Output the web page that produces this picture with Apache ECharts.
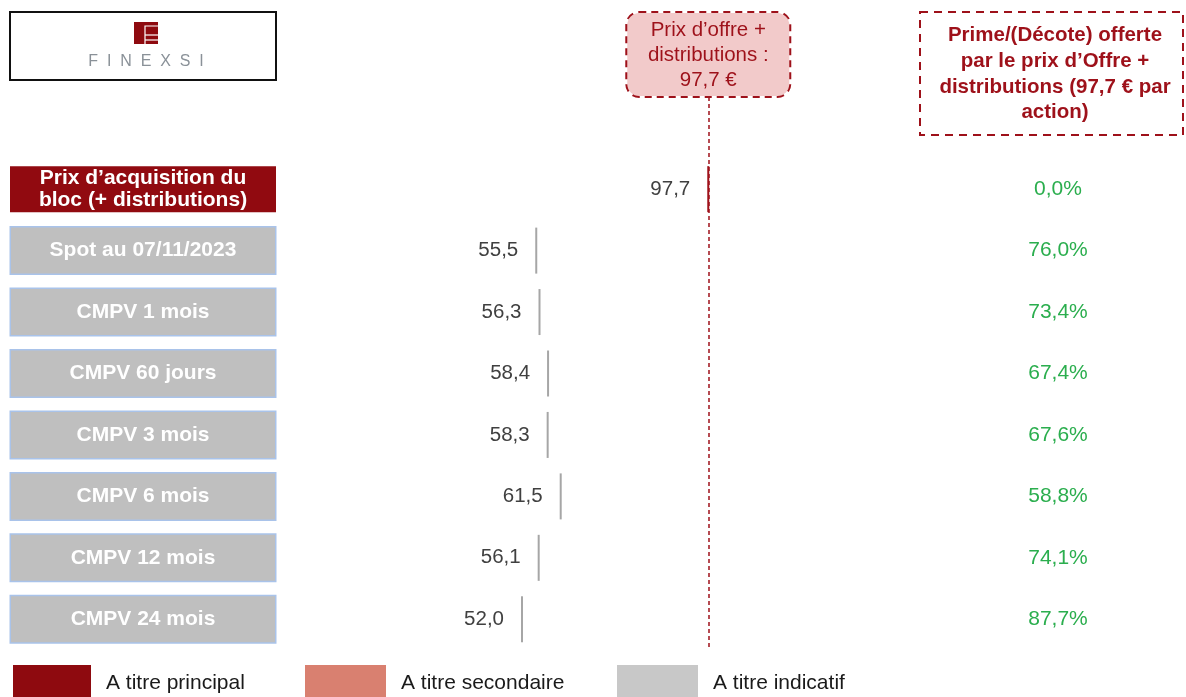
<!DOCTYPE html>
<html><head><meta charset="utf-8">
<script src="https://cdn.jsdelivr.net/npm/echarts@6/dist/echarts.min.js"></script>
<style>html,body{margin:0;padding:0;background:#fff}#c{width:1186px;height:697px}</style>
</head><body><div id="c"></div>
<script>
const categories = ['', 'Prix d’acquisition du\nbloc (+ distributions)', 'Spot au 07/11/2023', 'CMPV 1 mois', 'CMPV 60 jours', 'CMPV 3 mois', 'CMPV 6 mois', 'CMPV 12 mois', 'CMPV 24 mois'];
const principalValues = [97.7];
const indicatifValues = [55.5, 56.3, 58.4, 58.3, 61.5, 56.1, 52.0];
const premiums = [0.0, 76.0, 73.4, 67.4, 67.6, 58.8, 74.1, 87.7];
const offerPrice = 97.7;

const RED = '#9E111A';
const FONT = 'Liberation Sans, Arial, sans-serif';
const fmt = v => v.toFixed(1).replace('.', ',');

const baseLabel = {
  align: 'center', width: 264, lineHeight: 41, overflow: 'none',
  color: '#fff', fontWeight: 'bold', fontSize: 21, fontFamily: FONT,
  backgroundColor: '#BFBFBF', borderColor: '#A9C3EA', borderWidth: 1.5, padding: [5, 0, 0, 0]
};
const yData = categories.map((c, i) => {
  if (i === 0) return {value: c, textStyle: Object.assign({}, baseLabel, {backgroundColor: 'transparent', borderWidth: 0})};
  if (i === 1) return {value: c, textStyle: Object.assign({}, baseLabel, {backgroundColor: '#910A10', borderColor: '#910A10', borderWidth: 0, width: 266, lineHeight: 22.5, padding: [1, 0, 0, 0]})};
  return {value: c, textStyle: Object.assign({}, baseLabel)};
});
const pctData = [''].concat(premiums.map(p => fmt(p) + '%'));

const legendText = {fontSize: 21, color: '#1a1a1a', fontFamily: FONT, padding: [0, 0, 0, 10]};

const chart = echarts.init(document.getElementById('c'), null, {renderer: 'canvas'});
chart.setOption({
  backgroundColor: '#fff',
  animation: false,
  grid: {left: 310, right: 183, top: 97, bottom: 47, containLabel: false, outerBoundsMode: 'none'},
  xAxis: {type: 'value', min: 0, max: 170, show: false},
  yAxis: [{
    type: 'category', inverse: true, data: yData,
    axisLine: {show: false}, axisTick: {show: false}, splitLine: {show: false},
    axisLabel: Object.assign({margin: 167}, baseLabel)
  }, {
    type: 'category', inverse: true, position: 'right', data: pctData,
    axisLine: {show: false}, axisTick: {show: false}, splitLine: {show: false},
    axisLabel: {margin: 55, align: 'center', color: '#2BAE4E', fontSize: 21, fontFamily: FONT, padding: [5, 0, 0, 0]}
  }],
  legend: [
    {left: 8, top: 660, itemWidth: 78, itemHeight: 37, icon: 'rect', data: [{name: 'A titre principal', itemStyle: {color: '#8E0A0F', opacity: 1}}], textStyle: legendText},
    {left: 300, top: 660, itemWidth: 81, itemHeight: 37, icon: 'rect', data: [{name: 'A titre secondaire', itemStyle: {color: '#D98070', opacity: 1}}], textStyle: legendText},
    {left: 612, top: 660, itemWidth: 81, itemHeight: 37, icon: 'rect', data: [{name: 'A titre indicatif', itemStyle: {color: '#C8C8C8', opacity: 1}}], textStyle: legendText}
  ],
  series: [
    {
      name: 'A titre principal', type: 'scatter', symbol: 'rect', symbolSize: [2, 46],
      itemStyle: {color: RED, opacity: 1},
      data: principalValues.map((v, i) => [v, categories[1 + i]]),
      label: {show: true, position: 'left', distance: 17, color: '#404040', fontSize: 20.5, fontFamily: FONT, padding: [3, 0, 0, 0], formatter: p => fmt(p.value[0])},
      markLine: {
        silent: true, symbol: 'none',
        lineStyle: {color: RED, width: 1.5, type: [4, 3]},
        data: [{xAxis: offerPrice}],
        label: {
          show: true, position: 'start', distance: 1,
          formatter: () => 'Prix d’offre +\ndistributions :\n' + fmt(offerPrice) + ' €',
          color: RED, fontSize: 20.5, fontFamily: FONT, lineHeight: 25, align: 'center',
          backgroundColor: '#F2CACA', borderColor: RED, borderWidth: 2, borderType: [7, 5],
          borderRadius: 12, width: 158, padding: [5, 2, 3, 2]
        }
      }
    },
    {name: 'A titre secondaire', type: 'scatter', data: [], itemStyle: {color: '#D98070', opacity: 1}},
    {
      name: 'A titre indicatif', type: 'scatter', symbol: 'rect', symbolSize: [2, 46],
      itemStyle: {color: '#A6A6A6', opacity: 1},
      data: indicatifValues.map((v, i) => [v, categories[2 + i]]),
      label: {show: true, position: 'left', distance: 17, color: '#404040', fontSize: 20.5, fontFamily: FONT, padding: [2, 0, 0, 0], formatter: p => fmt(p.value[0])}
    }
  ],
  graphic: [
    {type: 'rect', shape: {x: 10, y: 12, width: 266, height: 68}, style: {fill: '#fff', stroke: '#111', lineWidth: 2}},
    {type: 'rect', shape: {x: 134, y: 22, width: 24, height: 22}, style: {fill: '#8E0A0F'}},
    {type: 'polyline', shape: {points: [[158, 26], [145, 26], [145, 44]]}, style: {stroke: '#fff', lineWidth: 1.2, fill: null}},
    {type: 'line', shape: {x1: 145, y1: 35, x2: 158, y2: 35}, style: {stroke: '#fff', lineWidth: 1.2}},
    {type: 'line', shape: {x1: 145, y1: 40, x2: 158, y2: 40}, style: {stroke: '#fff', lineWidth: 1.2}},
    {type: 'text', x: 146, y: 62, style: {text: 'F  I  N  E  X  S  I', fill: '#8A9198', fontSize: 16, fontFamily: FONT, align: 'center', verticalAlign: 'middle'}},
    {type: 'rect', shape: {x: 920, y: 12, width: 263, height: 123}, style: {fill: 'none', stroke: RED, lineWidth: 2, lineDash: [8, 6]}},
    {type: 'text', x: 1055, y: 74, style: {text: 'Prime/(Décote) offerte\npar le prix d’Offre +\ndistributions (97,7 € par\naction)', fill: RED, fontSize: 20.5, fontWeight: 'bold', fontFamily: FONT, align: 'center', verticalAlign: 'middle', lineHeight: 25.7}}
  ]
});
</script></body></html>
